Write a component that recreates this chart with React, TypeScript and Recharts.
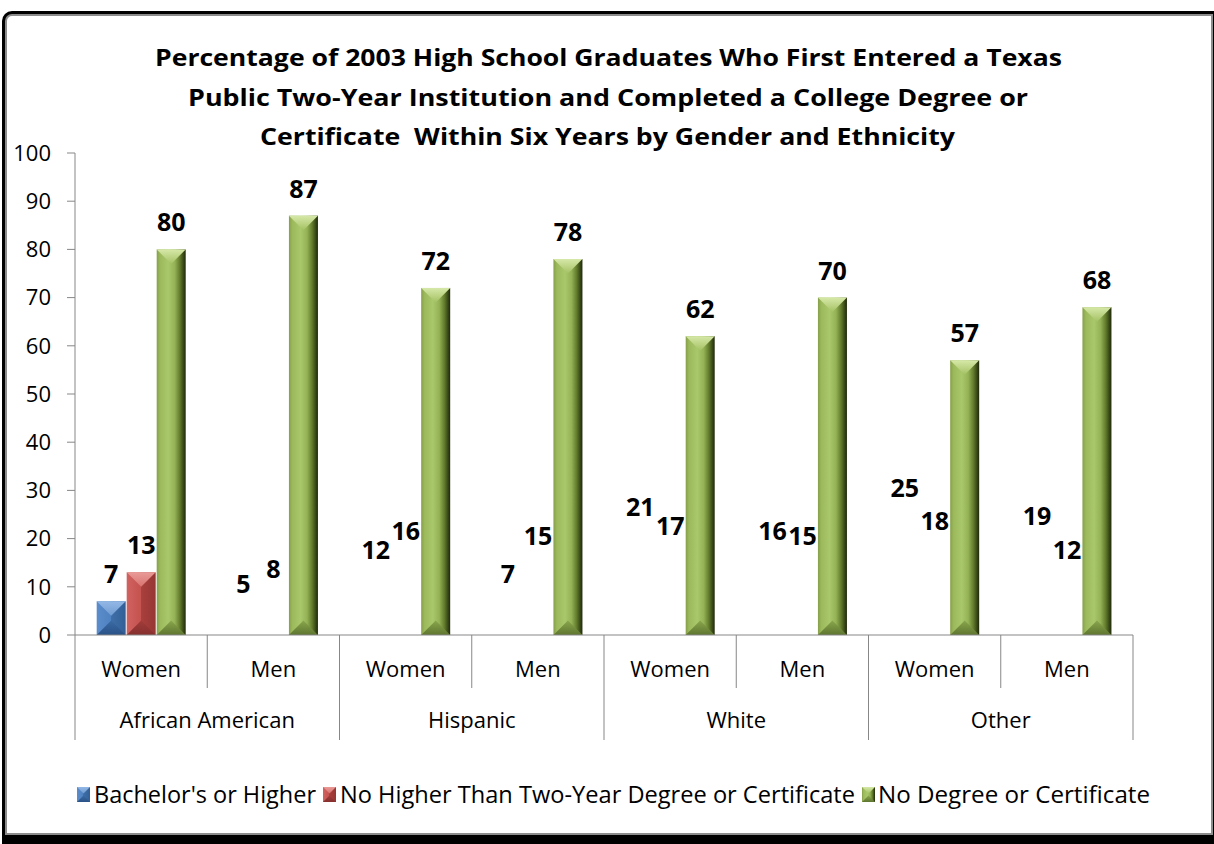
import React from 'react';
import { BarChart, Bar, XAxis, YAxis, LabelList, Legend } from 'recharts';

// ---------- data ----------
const genders = ['Women', 'Men', 'Women', 'Men', 'Women', 'Men', 'Women', 'Men'];
const ethnicities = ['African American', 'Hispanic', 'White', 'Other'];
const bachelors = [7, 5, 12, 7, 21, 16, 25, 19];
const twoYear = [13, 8, 16, 15, 17, 15, 18, 12];
const noDegree = [80, 87, 72, 78, 62, 70, 57, 68];
const yTicks = [0, 10, 20, 30, 40, 50, 60, 70, 80, 90, 100];
const seriesNames = [
  "Bachelor's or Higher",
  'No Higher Than Two-Year Degree or Certificate',
  'No Degree or Certificate',
];
const titleLines = [
  'Percentage of 2003 High School Graduates Who First Entered a Texas',
  'Public Two-Year Institution and Completed a College Degree or',
  'Certificate  Within Six Years by Gender and Ethnicity',
];

const data = genders.map((g, i) => ({
  gender: g,
  ethnicity: ethnicities[Math.floor(i / 2)],
  bachelors: bachelors[i],
  twoYear: twoYear[i],
  noDegree: noDegree[i],
}));

// ---------- layout ----------
const W = 1214;
const H = 844;
const M = { top: 153, right: 81, bottom: 89, left: 0 };
const Y_AXIS_W = 75;
const X_AXIS_H = 120;
const PLOT_W = W - M.left - M.right - Y_AXIS_W;
const AXIS_COLOR = '#878787';
const FONT = '"Open Sans", "Noto Sans", sans-serif';

type Pal = { id: string; top: string; bottom: string; body: string };
const PALS: Pal[] = [
  { id: 'blue', top: 'url(#blueTop)', bottom: 'url(#blueBot)', body: 'url(#blueBody)' },
  { id: 'red', top: 'url(#redTop)', bottom: 'url(#redBot)', body: 'url(#redBody)' },
  { id: 'green', top: 'url(#greenTop)', bottom: 'url(#greenBot)', body: 'url(#greenBody)' },
];

const Bevel = ({ x, y, width, height, pal }: any) => {
  if (!(width > 0) || !(height > 0)) return <g />;
  const d = Math.min(width / 2, height / 2);
  const x0 = x, x1 = x + width, xc = x + width / 2, y0 = y, yb = y + height;
  return (
    <g>
      <rect x={x0} y={y0} width={width} height={height} fill={pal.body} />
      <polygon points={`${x0},${y0} ${x1},${y0} ${xc},${y0 + d}`} fill={pal.top} />
      <polygon points={`${x0},${yb} ${x1},${yb} ${xc},${yb - d}`} fill={pal.bottom} />
    </g>
  );
};

const Gradients = () => (
  <defs>
    <linearGradient id="greenBody" x1="0" y1="0" x2="1" y2="0">
      <stop offset="0" stopColor="#869f4a" />
      <stop offset="0.12" stopColor="#9cba5c" />
      <stop offset="0.4" stopColor="#a9c86b" />
      <stop offset="0.62" stopColor="#95b356" />
      <stop offset="0.8" stopColor="#627b2c" />
      <stop offset="1" stopColor="#1e280a" />
    </linearGradient>
    <linearGradient id="greenTop" x1="0" y1="0" x2="0" y2="1">
      <stop offset="0" stopColor="#d6e8a8" />
      <stop offset="1" stopColor="#a4c163" />
    </linearGradient>
    <linearGradient id="greenBot" x1="0" y1="0" x2="0" y2="1">
      <stop offset="0" stopColor="#8aa64c" />
      <stop offset="1" stopColor="#5e7630" />
    </linearGradient>
    <linearGradient id="blueBody" x1="0" y1="0" x2="1" y2="0">
      <stop offset="0" stopColor="#5b8ccb" />
      <stop offset="0.5" stopColor="#4f82c0" />
      <stop offset="0.5" stopColor="#3f6ea8" />
      <stop offset="1" stopColor="#325f96" />
    </linearGradient>
    <linearGradient id="blueTop" x1="0" y1="0" x2="0" y2="1">
      <stop offset="0" stopColor="#93b8e6" />
      <stop offset="1" stopColor="#6f9bd2" />
    </linearGradient>
    <linearGradient id="blueBot" x1="0" y1="0" x2="0" y2="1">
      <stop offset="0" stopColor="#3a6aa4" />
      <stop offset="1" stopColor="#2a5287" />
    </linearGradient>
    <linearGradient id="redBody" x1="0" y1="0" x2="1" y2="0">
      <stop offset="0" stopColor="#d0625f" />
      <stop offset="0.5" stopColor="#c4524f" />
      <stop offset="0.5" stopColor="#a9403d" />
      <stop offset="1" stopColor="#963634" />
    </linearGradient>
    <linearGradient id="redTop" x1="0" y1="0" x2="0" y2="1">
      <stop offset="0" stopColor="#e99a97" />
      <stop offset="1" stopColor="#d87370" />
    </linearGradient>
    <linearGradient id="redBot" x1="0" y1="0" x2="0" y2="1">
      <stop offset="0" stopColor="#a13c3a" />
      <stop offset="1" stopColor="#86302e" />
    </linearGradient>
  </defs>
);

const renderValueLabel = (props: any) => {
  const { x, y, width, value } = props;
  return (
    <text
      x={x + width / 2}
      y={y - 18}
      textAnchor="middle"
      fontFamily={FONT}
      fontWeight={700}
      fontSize={25}
      fill="#000"
    >
      {value}
    </text>
  );
};

const XTick = (props: any) => {
  const { x, y, index, payload } = props;
  const i = typeof index === 'number' ? index : payload.index;
  const half = PLOT_W / genders.length / 2;
  const left = x - half;
  const groupStart = i % 2 === 0;
  return (
    <g>
      <line x1={left} y1={y} x2={left} y2={y + (groupStart ? 105 : 53)} stroke={AXIS_COLOR} strokeWidth={1} />
      {i === genders.length - 1 && (
        <line x1={x + half} y1={y} x2={x + half} y2={y + 105} stroke={AXIS_COLOR} strokeWidth={1} />
      )}
      <text x={x} y={y + 42} textAnchor="middle" fontFamily={FONT} fontSize={22} fill="#000">
        {payload.value}
      </text>
      {groupStart && (
        <text x={x + half} y={y + 93} textAnchor="middle" fontFamily={FONT} fontSize={22} fill="#000">
          {ethnicities[Math.floor(i / 2)]}
        </text>
      )}
    </g>
  );
};

const legendMarkerX = [77, 323, 862];
const legendTextX = [94, 340, 878];
const legendTextLen = [222, 515, 272];

const LegendContent = () => (
  <svg width={W} height={40} style={{ display: 'block' }}>
    {seriesNames.map((name, k) => (
      <g key={name}>
        <Bevel x={legendMarkerX[k]} y={12} width={13} height={15} pal={PALS[k]} />
        <text
          x={legendTextX[k]}
          y={28}
          fontFamily={FONT}
          fontSize={23}
          fill="#000"
          textLength={legendTextLen[k]}
          lengthAdjust="spacingAndGlyphs"
        >
          {name}
        </text>
      </g>
    ))}
  </svg>
);

const titleX = [[155, 1062], [188, 1028], [260, 955]];
const titleBaseline = [66, 106, 145];

export default function App() {
  return (
    <div style={{ position: 'absolute', left: 0, top: 0, width: W, height: H, background: '#fff', overflow: 'hidden' }}>
      <div style={{ position: 'absolute', left: 2, top: 11, width: 1212, height: 833, background: '#000', borderTopLeftRadius: 10 }} />
      <div
        style={{
          position: 'absolute',
          left: 5,
          top: 14,
          width: 1208,
          height: 821,
          background: '#fff',
          border: '2px solid #8c8c8c',
          boxSizing: 'border-box',
          borderTopLeftRadius: 7,
        }}
      />
      <svg width={W} height={170} style={{ position: 'absolute', left: 0, top: 0 }}>
        {titleLines.map((t, k) => (
          <text
            key={k}
            x={titleX[k][0]}
            y={titleBaseline[k]}
            fontFamily={FONT}
            fontWeight={700}
            fontSize={24}
            fill="#000"
            textLength={titleX[k][1] - titleX[k][0]}
            lengthAdjust="spacingAndGlyphs"
            style={{ whiteSpace: 'pre' }}
          >
            {t}
          </text>
        ))}
      </svg>
      <div style={{ position: 'absolute', left: 0, top: 0 }}>
        <BarChart width={W} height={H} data={data} margin={M} barCategoryGap="16.4%" barGap={1}>
          <Gradients />
          <XAxis
            dataKey="gender"
            height={X_AXIS_H}
            interval={0}
            tickLine={false}
            tickSize={0}
            tickMargin={0}
            axisLine={{ stroke: AXIS_COLOR }}
            tick={<XTick />}
          />
          <YAxis
            width={Y_AXIS_W}
            domain={[0, 100]}
            ticks={yTicks}
            interval={0}
            tickSize={8}
            tickMargin={16}
            axisLine={{ stroke: AXIS_COLOR }}
            tickLine={{ stroke: AXIS_COLOR }}
            tick={{ fontFamily: FONT, fontSize: 22, fill: '#000' }}
          />
          <Legend
            layout="horizontal"
            verticalAlign="middle"
            align="center"
            wrapperStyle={{ position: 'absolute', top: 775, left: 0, width: W, height: 40 }}
            content={<LegendContent />}
          />
          <Bar
            dataKey="bachelors"
            name={seriesNames[0]}
            isAnimationActive={false}
            shape={(p: any) => (p.index === 0 ? <Bevel {...p} pal={PALS[0]} /> : <g />)}
          >
            <LabelList dataKey="bachelors" content={renderValueLabel} />
          </Bar>
          <Bar
            dataKey="twoYear"
            name={seriesNames[1]}
            isAnimationActive={false}
            shape={(p: any) => (p.index === 0 ? <Bevel {...p} pal={PALS[1]} /> : <g />)}
          >
            <LabelList dataKey="twoYear" content={renderValueLabel} />
          </Bar>
          <Bar
            dataKey="noDegree"
            name={seriesNames[2]}
            isAnimationActive={false}
            shape={(p: any) => <Bevel {...p} pal={PALS[2]} />}
          >
            <LabelList dataKey="noDegree" content={renderValueLabel} />
          </Bar>
        </BarChart>
      </div>
    </div>
  );
}
